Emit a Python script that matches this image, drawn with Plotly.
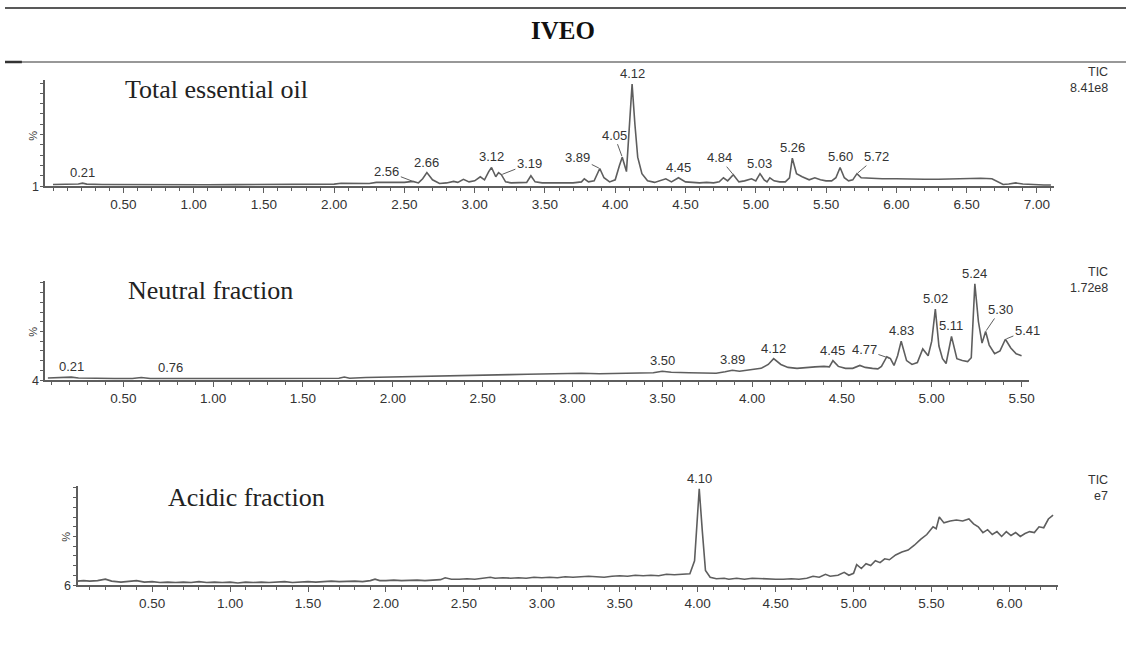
import plotly.graph_objects as go

# ---------------- DATA ----------------
# Total essential oil (time in min, relative intensity %)
top_t = [0.00,0.10,0.18,0.21,0.24,0.35,0.50,0.70,0.90,1.10,1.30,1.50,1.70,1.90,2.00,2.05,2.15,2.25,2.30,2.40,2.50,2.56,2.60,2.63,2.66,2.70,2.75,2.80,2.85,2.88,2.92,2.96,3.00,3.04,3.07,3.10,3.12,3.15,3.17,3.19,3.22,3.26,3.32,3.37,3.40,3.43,3.48,3.55,3.62,3.70,3.76,3.78,3.81,3.85,3.89,3.92,3.96,4.00,4.03,4.05,4.08,4.10,4.12,4.14,4.16,4.19,4.23,4.28,4.32,4.36,4.40,4.45,4.50,4.55,4.60,4.65,4.70,4.74,4.77,4.80,4.84,4.88,4.92,4.97,5.00,5.03,5.06,5.08,5.10,5.13,5.17,5.21,5.24,5.26,5.29,5.33,5.38,5.42,5.46,5.50,5.54,5.57,5.60,5.63,5.66,5.69,5.72,5.75,5.80,5.90,6.00,6.10,6.20,6.30,6.40,6.50,6.60,6.68,6.72,6.76,6.80,6.85,6.90,6.95,7.00,7.05,7.10]
top_y = [1.5,1.5,2.0,2.8,1.8,1.5,1.3,1.3,1.2,1.2,1.3,1.3,1.4,1.6,1.8,2.6,2.5,2.4,3.5,3.6,3.5,4.5,3.0,7.0,13.0,6.0,2.5,3.0,4.5,3.5,6.5,4.0,5.0,9.0,6.0,14.0,18.0,9.0,13.0,11.0,4.0,3.0,3.0,3.5,10.0,4.0,3.0,3.0,3.0,3.0,4.0,7.0,4.0,5.0,17.0,8.0,4.0,6.0,20.0,28.0,14.0,55.0,99.0,60.0,28.0,12.0,5.0,3.5,5.0,7.0,4.0,8.0,4.0,3.5,3.0,3.5,3.0,4.0,8.0,5.0,11.0,4.0,5.0,7.0,5.0,12.0,6.0,4.0,8.0,5.0,4.0,4.0,8.0,27.0,12.0,9.0,6.0,8.0,6.0,5.0,5.0,8.0,18.0,8.0,5.0,6.0,12.0,8.0,7.5,7.0,7.0,6.5,6.5,6.5,7.0,7.0,7.5,7.0,4.5,1.5,2.0,3.0,2.0,1.5,1.5,1.0,1.0]

# Neutral fraction
mid_t = [0.08,0.15,0.21,0.25,0.35,0.45,0.55,0.60,0.65,0.72,0.76,0.80,0.95,1.10,1.25,1.40,1.55,1.70,1.73,1.76,1.85,1.95,2.05,2.15,2.25,2.35,2.45,2.55,2.65,2.75,2.85,2.95,3.05,3.15,3.25,3.35,3.45,3.50,3.55,3.65,3.75,3.80,3.85,3.89,3.93,4.00,4.05,4.09,4.12,4.16,4.20,4.25,4.30,4.35,4.40,4.43,4.45,4.48,4.52,4.56,4.60,4.63,4.67,4.70,4.72,4.75,4.77,4.79,4.81,4.83,4.86,4.89,4.92,4.95,4.98,5.00,5.02,5.04,5.06,5.08,5.11,5.14,5.17,5.20,5.22,5.24,5.26,5.28,5.30,5.32,5.35,5.38,5.41,5.44,5.47,5.50]
mid_y = [2.0,2.2,3.0,2.0,1.5,1.5,1.5,2.5,1.5,1.6,2.0,1.4,1.5,1.5,1.6,1.6,1.7,1.8,3.0,1.8,2.5,2.8,3.0,3.5,3.8,4.0,4.5,5.0,5.5,6.0,6.5,6.5,7.0,6.5,7.0,7.5,7.5,9.0,8.0,7.5,7.0,7.0,8.5,10.0,9.0,11.0,12.0,16.0,22.0,16.0,13.0,12.0,13.0,13.5,14.0,13.5,20.0,14.0,12.0,12.0,15.0,13.0,12.0,11.5,14.0,24.0,22.0,15.0,25.0,40.0,20.0,16.0,18.0,32.0,25.0,40.0,73.0,35.0,22.0,17.0,45.0,22.0,20.0,19.0,23.0,99.0,60.0,38.0,50.0,36.0,27.0,30.0,42.0,33.0,27.0,25.0]

# Acidic fraction
bot_t = [0.02,0.06,0.10,0.15,0.20,0.24,0.30,0.35,0.40,0.45,0.50,0.55,0.60,0.65,0.70,0.75,0.80,0.85,0.90,0.95,1.00,1.05,1.10,1.15,1.20,1.25,1.30,1.35,1.40,1.45,1.50,1.55,1.60,1.65,1.70,1.75,1.80,1.85,1.90,1.93,1.96,2.00,2.05,2.10,2.15,2.20,2.25,2.30,2.35,2.38,2.42,2.47,2.52,2.57,2.62,2.67,2.70,2.75,2.80,2.85,2.90,2.95,3.00,3.05,3.10,3.15,3.20,3.25,3.30,3.35,3.40,3.45,3.50,3.55,3.60,3.65,3.70,3.75,3.80,3.85,3.90,3.95,3.98,4.01,4.03,4.05,4.08,4.12,4.17,4.20,4.25,4.30,4.35,4.40,4.45,4.50,4.55,4.60,4.65,4.70,4.74,4.78,4.82,4.85,4.90,4.94,4.97,5.00,5.02,5.05,5.08,5.11,5.14,5.17,5.20,5.23,5.27,5.31,5.35,5.39,5.43,5.47,5.51,5.53,5.55,5.58,5.62,5.66,5.70,5.74,5.77,5.80,5.83,5.86,5.89,5.92,5.95,5.98,6.01,6.04,6.07,6.10,6.13,6.16,6.19,6.22,6.25,6.28]
bot_y = [4.0,4.5,4.0,4.5,6.0,4.0,3.0,3.5,4.5,3.0,3.5,2.5,3.0,2.5,3.0,2.5,3.5,2.5,3.0,2.5,3.0,2.0,3.0,2.5,3.0,2.5,3.0,3.5,2.5,3.0,3.5,3.0,3.5,4.0,3.5,4.0,4.0,3.5,4.5,6.0,4.5,4.5,5.0,4.5,5.0,5.0,4.5,5.0,5.5,7.5,6.0,6.0,6.5,6.0,7.0,8.0,7.0,7.5,7.0,7.5,7.0,8.0,7.5,8.0,7.5,8.5,8.0,8.5,9.0,8.5,8.0,9.0,9.5,9.0,10.0,9.5,10.0,9.5,11.0,10.5,11.0,11.5,25.0,99.0,55.0,15.0,8.0,6.5,7.0,6.0,7.0,6.0,7.0,6.5,6.5,6.0,6.0,6.5,6.0,7.0,9.0,8.0,11.0,9.0,10.0,13.0,10.0,12.0,21.0,17.0,22.0,20.0,25.0,23.0,27.0,26.0,31.0,34.0,36.0,41.0,47.0,52.0,60.0,58.0,70.0,64.0,66.0,67.0,66.0,68.0,63.0,60.0,54.0,57.0,52.0,55.0,50.0,55.0,51.0,54.0,50.0,53.0,55.0,54.0,60.0,59.0,68.0,72.0]

top_ticks = [0.50,1.00,1.50,2.00,2.50,3.00,3.50,4.00,4.50,5.00,5.50,6.00,6.50,7.00]
mid_ticks = [0.50,1.00,1.50,2.00,2.50,3.00,3.50,4.00,4.50,5.00,5.50]
bot_ticks = [0.50,1.00,1.50,2.00,2.50,3.00,3.50,4.00,4.50,5.00,5.50,6.00]

top_peaks = ["0.21","2.56","2.66","3.12","3.19","3.89","4.05","4.12","4.45","4.84","5.03","5.26","5.60","5.72"]
mid_peaks = ["0.21","0.76","3.50","3.89","4.12","4.45","4.77","4.83","5.02","5.11","5.24","5.30","5.41"]
bot_peaks = ["4.10"]

titles = ["Total essential oil", "Neutral fraction", "Acidic fraction"]
fn_labels = ["1", "4", "6"]
tic_scale = ["8.41e8", "1.72e8", "e7"]

# ---------------- LAYOUT HELPERS ----------------
W, H = 1132, 659
def fx(p): return p / W
def fy(p): return (H - p) / H

LINE = "#5e5e5e"
TXT = "#333333"
SANS = "Liberation Sans, Arial, sans-serif"
SERIF = "Liberation Serif, Times New Roman, serif"

def peak_at(ts, ys, t, win=0.1):
    """Local maximum of the trace within +/- win of the labelled time."""
    idx = [k for k in range(len(ts)) if abs(ts[k] - t) <= win + 1e-9]
    if not idx:
        idx = [min(range(len(ts)), key=lambda k: abs(ts[k] - t))]
    near = min(idx, key=lambda k: abs(ts[k] - t))
    # prefer the exact/nearest point if it is a local max, else the highest in window
    if abs(ts[near] - t) < 0.011:
        return ts[near], ys[near]
    k = max(idx, key=lambda k: ys[k])
    return ts[k], ys[k]

panels = [
    dict(xl=45, xr=1060, a=53.3, b=141.3, yb=186, yt=80, ymax=103,
         t=top_t, y=top_y, ticks=top_ticks, peaks=top_peaks,
         title_xy=(124, 90), tic_y=(72, 88), fn_xy=(41, 187), pct_xy=(33, 136)),
    dict(xl=45, xr=1034, a=33.7, b=180.6, yb=380, yt=281, ymax=102,
         t=mid_t, y=mid_y, ticks=mid_ticks, peaks=mid_peaks,
         title_xy=(127, 291), tic_y=(272, 288), fn_xy=(41, 381), pct_xy=(33, 332)),
    dict(xl=78, xr=1064, a=74.6, b=156.7, yb=585, yt=486, ymax=102,
         t=bot_t, y=bot_y, ticks=bot_ticks, peaks=bot_peaks,
         title_xy=(167, 497), tic_y=(480, 496), fn_xy=(73, 586), pct_xy=(66, 537)),
]

offsets = {
    0: {"2.56": (-26, -10), "3.19": (28, -11), "3.89": (-22, -11),
        "4.05": (-8, -22), "4.84": (-14, -17), "5.72": (20, -17)},
    1: {"4.77": (-26, -9), "5.30": (15, -22), "5.41": (22, -9)},
    2: {},
}

fig = go.Figure()
annotations = []
for i, p in enumerate(panels):
    n = "" if i == 0 else str(i + 1)
    r0 = (p["xl"] - p["a"]) / p["b"]
    r1 = (p["xr"] - p["a"]) / p["b"]
    fig.add_trace(go.Scatter(x=p["t"], y=p["y"], mode="lines",
                             line=dict(color=LINE, width=1.6),
                             xaxis="x" + n, yaxis="y" + n, showlegend=False,
                             hoverinfo="skip"))
    fig.update_layout(**{
        "xaxis" + n: dict(domain=[fx(p["xl"]), fx(p["xr"])], range=[r0, r1],
                          anchor="y" + n, showline=True, linecolor=LINE, linewidth=1.5,
                          showgrid=False, zeroline=False, ticks="outside", ticklen=5,
                          tickcolor=LINE, tickwidth=1, tickmode="array",
                          tickvals=p["ticks"], ticktext=["%.2f" % v for v in p["ticks"]],
                          tickfont=dict(family=SANS, size=13.5, color=TXT),
                          minor=dict(dtick=0.1, tick0=0, ticks="outside", ticklen=3,
                                     tickcolor=LINE, showgrid=False)),
        "yaxis" + n: dict(domain=[fy(p["yb"]), fy(p["yt"])], range=[0, p["ymax"]],
                          anchor="x" + n, showline=True, linecolor=LINE, linewidth=1.5,
                          showgrid=False, zeroline=False, ticks="outside", ticklen=3,
                          tickcolor=LINE, dtick=10, tick0=0, showticklabels=False),
    })
    for lab in p["peaks"]:
        tp, yv = peak_at(p["t"], p["y"], float(lab))
        off = offsets[i].get(lab)
        if off:
            annotations.append(dict(x=tp, y=yv, xref="x" + n, yref="y" + n, text=lab,
                                    showarrow=True, arrowhead=0, arrowwidth=1,
                                    arrowcolor=LINE, ax=off[0], ay=off[1], standoff=1,
                                    font=dict(family=SANS, size=13, color=TXT)))
        else:
            annotations.append(dict(x=tp, y=yv, xref="x" + n, yref="y" + n, text=lab,
                                    showarrow=False, yanchor="bottom", yshift=1,
                                    font=dict(family=SANS, size=13, color=TXT)))
    annotations.append(dict(x=fx(p["title_xy"][0]), y=fy(p["title_xy"][1]), xref="paper",
                            yref="paper", text=titles[i], showarrow=False, xanchor="left",
                            yanchor="middle", font=dict(family=SERIF, size=26, color="#222")))
    annotations.append(dict(x=fx(1116), y=fy(p["tic_y"][0]), xref="paper", yref="paper",
                            text="TIC", showarrow=False, xanchor="right", yanchor="middle",
                            font=dict(family=SANS, size=12.5, color=TXT)))
    annotations.append(dict(x=fx(1116), y=fy(p["tic_y"][1]), xref="paper", yref="paper",
                            text=tic_scale[i], showarrow=False, xanchor="right",
                            yanchor="middle", font=dict(family=SANS, size=12.5, color=TXT)))
    annotations.append(dict(x=fx(p["fn_xy"][0]), y=fy(p["fn_xy"][1]), xref="paper",
                            yref="paper", text=fn_labels[i], showarrow=False,
                            xanchor="right", yanchor="middle",
                            font=dict(family=SANS, size=12.5, color=TXT)))
    annotations.append(dict(x=fx(p["pct_xy"][0]), y=fy(p["pct_xy"][1]), xref="paper",
                            yref="paper", text="%", showarrow=False, textangle=-90,
                            xanchor="center", yanchor="middle",
                            font=dict(family=SANS, size=11, color=TXT)))

annotations.append(dict(x=0.5, y=fy(31), xref="paper", yref="paper", text="<b>IVEO</b>",
                        showarrow=False, xanchor="center", yanchor="middle",
                        font=dict(family=SERIF, size=25, color="#111")))

shapes = [
    dict(type="line", xref="paper", yref="paper", x0=fx(5), x1=1, y0=fy(8), y1=fy(8),
         line=dict(color="#222", width=1.5)),
    dict(type="line", xref="paper", yref="paper", x0=fx(5), x1=1, y0=fy(62), y1=fy(62),
         line=dict(color="#333", width=1.2)),
    dict(type="line", xref="paper", yref="paper", x0=fx(5), x1=fx(22), y0=fy(62), y1=fy(62),
         line=dict(color="#333", width=2.5)),
]

fig.update_layout(width=W, height=H, margin=dict(l=0, r=0, t=0, b=0),
                  paper_bgcolor="white", plot_bgcolor="white",
                  annotations=annotations, shapes=shapes, showlegend=False)

fig.write_html("out.html", config={"displayModeBar": False},
               post_script="document.body.style.margin='0px';document.body.style.overflow='hidden';")
